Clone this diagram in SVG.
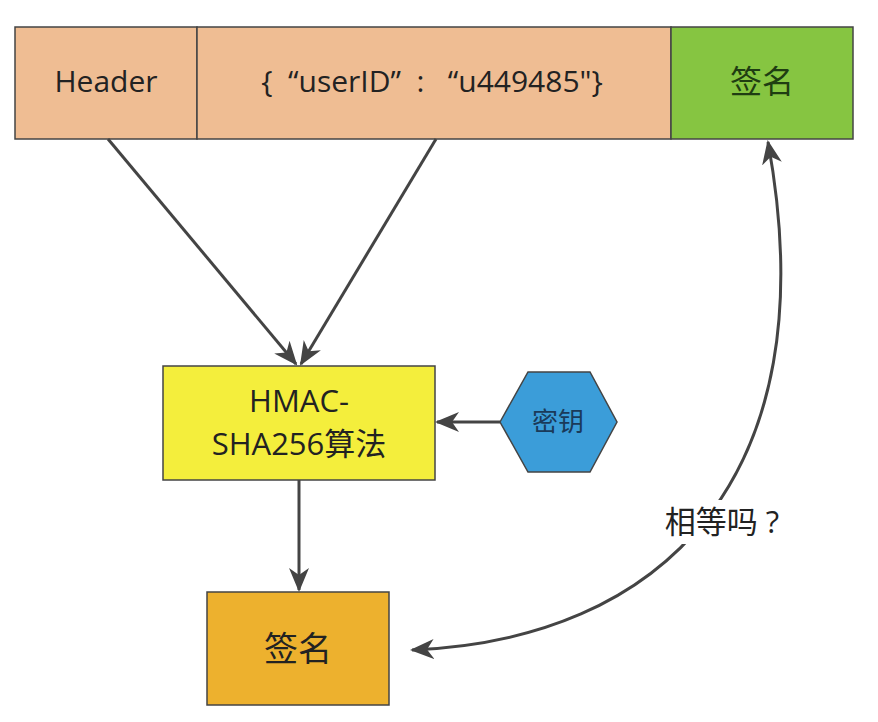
<svg xmlns="http://www.w3.org/2000/svg" width="878" height="722" viewBox="0 0 878 722">
<defs>
<style>
.t{font-family:"Open Sans","Noto Sans CJK SC",sans-serif;fill:#222;text-anchor:middle;dominant-baseline:central}
.b{stroke:#444;stroke-width:1.5}
.c{stroke:#444;stroke-width:3;fill:none}
</style>
<marker id="a" viewBox="0 0 24 24" refX="22" refY="12" markerWidth="24" markerHeight="24" orient="auto-start-reverse" markerUnits="userSpaceOnUse">
<path d="M0,2 L24,12 L0,22 L7,12 Z" fill="#444"/>
</marker>
</defs>
<rect width="878" height="722" fill="#fff"/>
<g id="header"><rect class="b" x="15" y="27" width="182" height="112" fill="#EFBD93"/><text class="t" x="106" y="80" font-size="30">Header</text></g>
<g id="payload"><rect class="b" x="197" y="27" width="474" height="112" fill="#EFBD93"/><text class="t" x="432" y="80" font-size="30" xml:space="preserve">{  “userID”  :   “u449485"}</text></g>
<g id="sig1"><rect class="b" x="671" y="27" width="182" height="112" fill="#86C541"/><text class="t" x="762" y="80" font-size="32" style="fill:#1f3d12">签名</text></g>
<g id="hmac"><rect class="b" x="163" y="366" width="272" height="114" fill="#F4EE3C"/><text class="t" x="299" y="400" font-size="31">HMAC-</text><text class="t" x="299" y="443" font-size="31">SHA256算法</text></g>
<g id="key"><polygon class="b" points="500,422 528,372 590,372 617,422 590,472 528,472" fill="#3B9DD9"/><text class="t" x="558" y="421" font-size="26" style="fill:#1a3a5a">密钥</text></g>
<g id="sig2"><rect class="b" x="207" y="592" width="182" height="113" fill="#EDB12E"/><text class="t" x="298" y="648" font-size="34">签名</text></g>
<g id="connectors">
<line class="c" x1="108" y1="139" x2="296" y2="364" marker-end="url(#a)"/>
<line class="c" x1="436" y1="139" x2="301" y2="364" marker-end="url(#a)"/>
<line class="c" x1="500" y1="422" x2="437" y2="422" marker-end="url(#a)"/>
<line class="c" x1="299" y1="480" x2="299" y2="590" marker-end="url(#a)"/>
<path class="c" d="M412,650 C660,640 830,480 768,142" marker-start="url(#a)" marker-end="url(#a)"/>
<rect x="645" y="500" width="155" height="44" fill="#fff"/>
<text class="t" x="722" y="521" font-size="31" xml:space="preserve">相等吗 ?</text>
</g>
</svg>
